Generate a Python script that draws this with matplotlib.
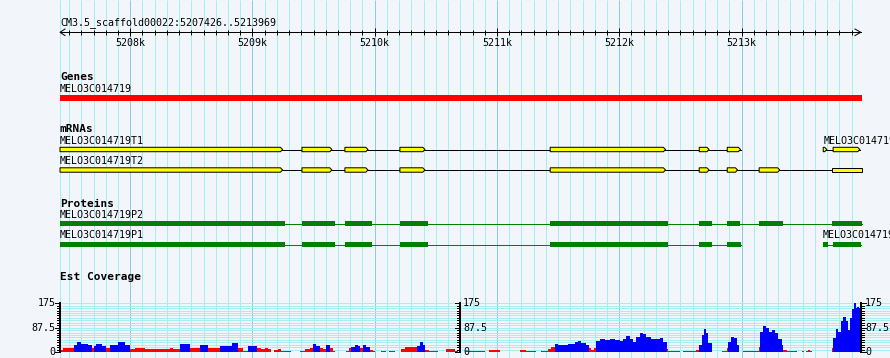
import numpy as np
import matplotlib
matplotlib.use("Agg")
import matplotlib.pyplot as plt
from matplotlib.patches import Polygon, Rectangle

plt.rcParams['font.family'] = 'DejaVu Sans Mono'

# region shown
ref_name = "CM3.5_scaffold00022"
view_start = 5207426
view_end = 5213969

gene_name = "MELO3C014719"
gene_span = (5207426, 5214100)

# mRNAs (exon start, end)
t1_name = "MELO3C014719T1"
t1_exons = [(5207426, 5209247), (5209405, 5209650), (5209756, 5209945), (5210206, 5210411),
            (5211435, 5212379), (5212654, 5212735), (5212883, 5212992)]
t2_name = "MELO3C014719T2"
t2_exons = [(5207426, 5209247), (5209405, 5209650), (5209756, 5209945), (5210206, 5210411),
            (5211435, 5212379), (5212654, 5212735), (5212883, 5212968), (5213144, 5213313),
            (5213744, 5214100)]
t3_name = "MELO3C014719T3"
t3_exons = [(5213668, 5213698), (5213749, 5213968)]

# proteins (CDS start, end)
p2_name = "MELO3C014719P2"
p2_cds = [(5207426, 5209266), (5209405, 5209673), (5209757, 5209975), (5210207, 5210433),
          (5211434, 5212396), (5212655, 5212756), (5212881, 5212985), (5213143, 5213337),
          (5213740, 5214100)]
p1_name = "MELO3C014719P1"
p1_cds = [(5207426, 5209266), (5209405, 5209673), (5209757, 5209975), (5210207, 5210433),
          (5211434, 5212396), (5212655, 5212756), (5212881, 5212996)]
p3_name = "MELO3C014719P3"
p3_cds = [(5213667, 5213705), (5213748, 5213975)]

# est coverage, step segments (start bp, value)
cov_start = [5207426, 5207450, 5207540, 5207565, 5207600, 5207655, 5207690, 5207705, 5207720, 5207770,
             5207800, 5207835, 5207900, 5207957, 5208000, 5208040, 5208120, 5208203, 5208326, 5208350,
             5208407, 5208489, 5208571, 5208636, 5208734, 5208832, 5208881, 5208922, 5208963, 5209037,
             5209069, 5209102, 5209127, 5209151, 5209176, 5209209, 5209233, 5209266, 5209315, 5209388,
             5209429, 5209470, 5209495, 5209519, 5209552, 5209577, 5209601, 5209634, 5209658, 5209675,
             5209765, 5209789, 5209805, 5209838, 5209863, 5209879, 5209904, 5209928, 5209961, 5209985,
             5210002, 5210051, 5210092, 5210116, 5210165, 5210214, 5210247, 5210272, 5210312, 5210345,
             5210370, 5210394, 5210411, 5210443, 5210517, 5210582, 5210656, 5210680, 5210738, 5210901,
             5210934, 5211024, 5211187, 5211236, 5211318, 5211359, 5211416, 5211441, 5211474, 5211498,
             5211580, 5211637, 5211662, 5211686, 5211727, 5211752, 5211768, 5211793, 5211809, 5211842,
             5211882, 5211923, 5211964, 5212005, 5212029, 5212054, 5212087, 5212111, 5212136, 5212169,
             5212193, 5212218, 5212259, 5212316, 5212332, 5212357, 5212390, 5212398, 5212496, 5212520,
             5212627, 5212652, 5212676, 5212692, 5212709, 5212725, 5212758, 5212839, 5212880, 5212888,
             5212913, 5212937, 5212962, 5212978, 5213011, 5213142, 5213150, 5213175, 5213199, 5213224,
             5213248, 5213273, 5213297, 5213330, 5213338, 5213371, 5213453, 5213494, 5213510, 5213526,
             5213543, 5213559, 5213575, 5213739, 5213747, 5213771, 5213788, 5213812, 5213829, 5213853,
             5213870, 5213886, 5213902, 5213919, 5213935, 5213943, 5213960]
cov_value = [7, 15, 25, 37, 29, 25, 15, 22, 30, 22,
             14, 25, 35, 25, 11, 13, 11, 12, 16, 12,
             28, 13, 24, 15, 22, 31, 13, 4, 23, 13,
             10, 15, 10, 1, 8, 12, 5, 2, 0, 4,
             10, 15, 30, 23, 13, 11, 24, 15, 5, 0,
             5, 13, 19, 26, 22, 15, 25, 19, 7, 2,
             0, 4, 0, 4, 0, 11, 17, 18, 17, 23,
             35, 25, 7, 4, 0, 10, 4, 0, 4, 0,
             7, 0, 6, 4, 0, 4, 10, 18, 28, 24,
             28, 35, 40, 33, 25, 13, 7, 15, 41, 46,
             42, 47, 43, 40, 47, 57, 47, 35, 55, 69,
             64, 54, 47, 48, 51, 37, 11, 4, 0, 4,
             7, 25, 61, 81, 67, 31, 0, 4, 15, 37,
             55, 49, 25, 0, 4, 17, 73, 94, 87, 73,
             78, 67, 47, 25, 7, 4, 0, 4, 0, 4,
             7, 4, 0, 13, 49, 83, 73, 111, 125, 112,
             79, 121, 154, 175, 157, 163, 157]
cov_end = 5213975
cov_max = 175
cov_pivot = 18.5

# layout in pixels
W, H = 890, 358
panel_left, panel_width = 60, 800
bpp = (view_end - view_start) / panel_width
x0 = view_start - panel_left * bpp
x1 = view_start + (W - panel_left) * bpp
panel_end = view_end + 2 * bpp
px = 0.72  # one pixel in points

bg = '#f2f5fa'
grid_minor = '#a6eef0'
grid_major = '#8ccbe8'

fig = plt.figure(figsize=(W / 100, H / 100), dpi=100, facecolor=bg)
ax = fig.add_axes([0, 0, 1, 1])
ax.set_xlim(x0, x1)
ax.set_ylim(H, 0)
ax.axis('off')
ax.set_facecolor(bg)

# vertical grid
minor = [view_start] + [v for v in range(5207500, 5214000, 100) if v % 1000]
major = list(range(5208000, 5214000, 1000))
ax.vlines(minor, 0, H, color=grid_minor, lw=px, zorder=0)
ax.vlines(major, 0, H, color=grid_major, lw=px, zorder=0)

small = dict(fontsize=7.2, color='black')
bold = dict(fontsize=8, fontweight='bold', color='black')

# ruler
ax.text(view_start, 25, f"{ref_name}:{view_start}..{view_end}", va='baseline', **small)
ry = 32.3
ax.plot([view_start, view_end + 0.7 * bpp], [ry, ry], color='black', lw=px)
ax.plot([view_start + 5 * bpp, view_start, view_start + 5 * bpp], [ry - 3.3, ry, ry + 3.3], color='black', lw=px)
ax.plot([view_end - 5 * bpp, view_end + 0.7 * bpp, view_end - 5 * bpp], [ry - 3.3, ry, ry + 3.3], color='black', lw=px)
ax.vlines([v for v in range(5207500, 5214000, 100) if v % 1000], ry - 2.3, ry + 2.3, color='black', lw=px)
ax.vlines(major, ry - 4, ry + 4, color='black', lw=px)
for m in major:
    ax.text(m, 46, f"{m // 1000}k", ha='center', va='baseline', **small)


def draw_transcript(exons, y, name, label_y):
    ax.text(exons[0][0], label_y, name, va='baseline', **small)
    ax.plot([exons[0][0], min(exons[-1][1], panel_end)], [y, y], color='black', lw=px, zorder=2)
    tip = 2.2 * bpp
    for s, e in exons:
        if e > panel_end:
            pts = [(s, y - 2.2), (panel_end, y - 2.2), (panel_end, y + 2.2), (s, y + 2.2)]
        else:
            pts = [(s, y - 2.2), (e - tip, y - 2.2), (e, y), (e - tip, y + 2.2), (s, y + 2.2)]
        ax.add_patch(Polygon(pts, closed=True, facecolor='#ffff00', edgecolor='black', lw=px, zorder=3))


def draw_protein(cds, y, name, label_y):
    ax.text(cds[0][0], label_y, name, va='baseline', **small)
    ax.plot([cds[0][0], min(cds[-1][1], panel_end)], [y, y], color='#008000', lw=px, zorder=2)
    for s, e in cds:
        e = min(e, panel_end)
        ax.add_patch(Rectangle((s, y - 2.6), e - s, 5.2, facecolor='#008000', edgecolor='none', zorder=3))


# genes
ax.text(view_start, 80, "Genes", va='baseline', **bold)
ax.text(gene_span[0], 91.7, gene_name, va='baseline', **small)
ax.add_patch(Rectangle((gene_span[0], 95), min(gene_span[1], panel_end) - gene_span[0], 6,
                       facecolor='#ff0000', edgecolor='none'))

# mRNAs
ax.text(view_start, 131.7, "mRNAs", va='baseline', **bold)
draw_transcript(t1_exons, 149.5, t1_name, 144)
draw_transcript(t2_exons, 170, t2_name, 164.3)
draw_transcript(t3_exons, 149.5, t3_name, 144)

# proteins
ax.text(view_start, 206.7, "Proteins", va='baseline', **bold)
draw_protein(p2_cds, 223.8, p2_name, 217.7)
draw_protein(p1_cds, 244.7, p1_name, 238.3)
draw_protein(p3_cds, 244.7, p3_name, 238.3)

# est coverage
ax.text(view_start, 279.7, "Est Coverage", va='baseline', **bold)
base_px, top_px = 352, 303.3
cax = fig.add_axes([0, (H - base_px) / H, 1, (base_px - top_px) / H])
cax.set_xlim(x0, x1)
cax.set_ylim(0, cov_max)
cax.axis('off')
cax.patch.set_visible(False)

tick_vals = np.linspace(0, cov_max, 21)
cax.hlines(tick_vals, view_start, x1, color=grid_minor, lw=px, zorder=0)

widths = np.diff(cov_start + [cov_end])
colors = ['#0000ff' if v > cov_pivot else '#ff0000' for v in cov_value]
cax.bar(cov_start, cov_value, width=widths, align='edge', color=colors, linewidth=0, zorder=2)

labels = ["0", "87.5", "175"]
label_vals = [0, cov_max / 2, cov_max]
axes_pos = [(view_start, 'left'), ((view_start + view_end) / 2, 'mid'), (view_end + 0.7 * bpp, 'right')]
for xa, kind in axes_pos:
    cax.plot([xa, xa], [0, cov_max], color='black', lw=2 * px, zorder=4, clip_on=False)
    sign = 1 if kind == 'right' else -1
    for tv in tick_vals:
        ln = 5 if tv in label_vals else 3
        cax.plot([xa, xa + sign * ln * bpp], [tv, tv], color='black', lw=px, zorder=4, clip_on=False)
    for lab, lv in zip(labels, label_vals):
        if kind == 'left':
            cax.text(xa - 4.5 * bpp, lv, lab, ha='right', va='center', clip_on=False, **small)
        else:
            off = 4.5 if kind == 'right' else 3
            cax.text(xa + off * bpp, lv, lab, ha='left', va='center', clip_on=False, **small)

fig.savefig("out.png", dpi=100, facecolor=bg)
